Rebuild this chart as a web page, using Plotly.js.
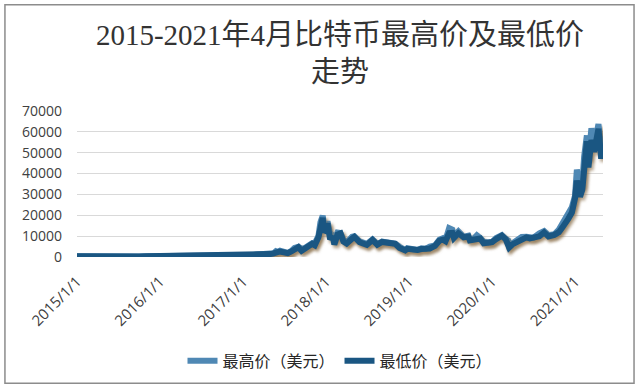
<!DOCTYPE html>
<html>
<head>
<meta charset="utf-8">
<script src="https://cdn.plot.ly/plotly-3.0.1.min.js"></script>
<style>
html,body{margin:0;padding:0;background:#fff;}
#chart{width:640px;height:388px;}
.scatterlayer .trace path.js-line{filter:drop-shadow(2px 3px 1.5px rgba(130,100,60,0.55));}
</style>
</head>
<body>
<div id="chart"></div>
<script>
const dates = [
"2015-01-01","2015-02-01","2015-03-01","2015-04-01","2015-05-01","2015-06-01","2015-07-01","2015-08-01","2015-09-01","2015-10-01","2015-11-01","2015-11-15","2015-12-01","2015-12-15",
"2016-01-01","2016-01-15","2016-02-01","2016-03-01","2016-04-01","2016-05-01","2016-06-01","2016-06-17","2016-07-01","2016-08-01","2016-09-01","2016-10-01","2016-11-01","2016-12-01","2016-12-20",
"2017-01-04","2017-01-15","2017-02-01","2017-02-15","2017-03-01","2017-03-15","2017-04-01","2017-04-15","2017-05-01","2017-05-15","2017-05-25","2017-06-01","2017-06-12","2017-06-25","2017-07-01","2017-07-16","2017-08-01","2017-08-15","2017-09-01","2017-09-15","2017-10-01","2017-10-15","2017-11-01","2017-11-12","2017-11-28","2017-12-07","2017-12-17","2017-12-22",
"2018-01-01","2018-01-07","2018-01-17","2018-02-01","2018-02-06","2018-02-20","2018-03-05","2018-03-18","2018-04-01","2018-04-25","2018-05-05","2018-05-28","2018-06-15","2018-06-29","2018-07-24","2018-08-14","2018-09-04","2018-10-01","2018-11-01","2018-11-20","2018-12-15","2018-12-24",
"2019-01-10","2019-02-07","2019-02-24","2019-03-15","2019-04-02","2019-04-25","2019-05-14","2019-05-30","2019-06-10","2019-06-26","2019-07-10","2019-07-17","2019-08-06","2019-08-29","2019-09-19","2019-09-25","2019-10-10","2019-10-26","2019-11-10","2019-11-25","2019-12-17",
"2020-01-01","2020-01-19","2020-02-13","2020-03-01","2020-03-12","2020-03-16","2020-04-01","2020-04-29","2020-05-10","2020-05-31","2020-06-15","2020-07-01","2020-07-27","2020-08-17","2020-09-05","2020-10-01","2020-10-21","2020-11-05","2020-11-24","2020-12-01","2020-12-17","2020-12-31",
"2021-01-08","2021-01-22","2021-02-01","2021-02-09","2021-02-21","2021-02-28","2021-03-13","2021-03-25","2021-04-13","2021-04-20","2021-04-25","2021-04-30"
];
const highPrice = [
320,240,262,247,238,230,264,284,232,239,330,335,378,465,
436,385,378,440,418,452,540,770,680,625,575,615,735,755,800,
1150,830,990,1010,1220,1255,1095,1185,1450,1800,2760,2460,2990,2610,2520,2000,2900,4350,4890,3900,4400,5850,6700,6500,10000,16700,19800,15800,
14100,17100,11700,10200,7800,11700,11500,8200,7000,9700,9900,7500,6600,6300,8400,6200,7400,6650,6400,4900,3300,4200,
4000,3400,4200,3900,5000,5600,8300,9000,8100,13800,13100,9900,12300,9700,10200,8700,8600,10400,9100,7300,6900,
7250,9100,10500,8700,7900,5400,6700,8900,9600,9700,9500,9250,11300,12400,10500,10900,13200,15800,19400,19900,23800,29300,
41900,33800,34600,48100,58300,46600,61700,53000,63700,56700,50500,58000
];
const lowPrice = [
312,225,245,236,232,222,255,277,227,235,311,320,355,435,
425,370,367,425,415,445,530,700,660,605,570,608,705,745,790,
1020,810,960,1000,1180,1245,1070,1170,1380,1700,2350,2300,2600,2450,2420,1840,2650,3950,4700,2950,4200,5450,6300,5600,9400,13700,18800,11800,
13100,16200,9400,9000,6000,10800,11300,7400,6500,8800,9600,7100,6400,5800,8200,5900,7200,6500,6350,4300,3200,3900,
3600,3380,3800,3850,4100,5300,7800,8300,7600,11500,11600,9100,11400,9400,9800,8000,8400,9200,8900,6600,6600,
7150,8600,10200,8500,4500,4500,6150,7700,8200,9400,8900,9100,9900,11800,9900,10600,11900,14100,18100,18300,21300,28200,
36600,28900,32300,45700,55500,43000,56100,50400,61500,53500,47100,53600
];
const seriesNames = ["最高价（美元）","最低价（美元）"];
const titleText = "2015-2021年4月比特币最高价及最低价<br>走势";

const traces = [
  {x: dates, y: highPrice, name: seriesNames[0], type: "scatter", mode: "lines",
   line: {color: "#4f88b4", width: 6}},
  {x: dates, y: lowPrice, name: seriesNames[1], type: "scatter", mode: "lines",
   line: {color: "#1a5682", width: 6}}
];

const layout = {
  width: 640, height: 388,
  paper_bgcolor: "#ffffff", plot_bgcolor: "#ffffff",
  margin: {l: 77, r: 37, t: 111, b: 130},
  title: {text: titleText, x: 0.5, xref: "paper", xanchor: "center",
          yref: "container", y: 0.885, yanchor: "middle",
          font: {family: "Liberation Serif, Noto Sans CJK SC, serif", size: 29, color: "#333333"}},
  xaxis: {type: "date", range: ["2015-01-01", "2021-05-03"],
          tick0: "2015-01-01", dtick: "M12", tickformat: "%Y/%-m/%-d",
          tickangle: -45, showgrid: false, zeroline: false, showline: false, ticks: "",
          ticklabelstandoff: 12,
          tickfont: {family: "Open Sans, Noto Sans, sans-serif", size: 15, color: "#404040"}},
  yaxis: {range: [0, 70000], dtick: 10000, tickformat: "d",
          showgrid: true, gridcolor: "#d9d9d9", gridwidth: 1, zeroline: false, showline: false,
          ticklabelstandoff: 14,
          tickfont: {family: "Open Sans, Noto Sans, sans-serif", size: 14, color: "#404040"}},
  legend: {orientation: "h", x: 0.5, xanchor: "center", y: -0.70, yanchor: "middle",
           font: {family: "Noto Sans CJK SC, sans-serif", size: 16, color: "#262626"},
           itemwidth: 30, tracegroupgap: 0},
  shapes: [{type: "rect", xref: "paper", yref: "paper",
            x0: -0.137, x1: 1.059, y0: -0.864, y1: 1.728,
            line: {color: "#8c8c8c", width: 1.5}, fillcolor: "rgba(0,0,0,0)", layer: "below"}],
  showlegend: true
};

Plotly.newPlot("chart", traces, layout, {displayModeBar: false, staticPlot: true});
</script>
</body>
</html>
